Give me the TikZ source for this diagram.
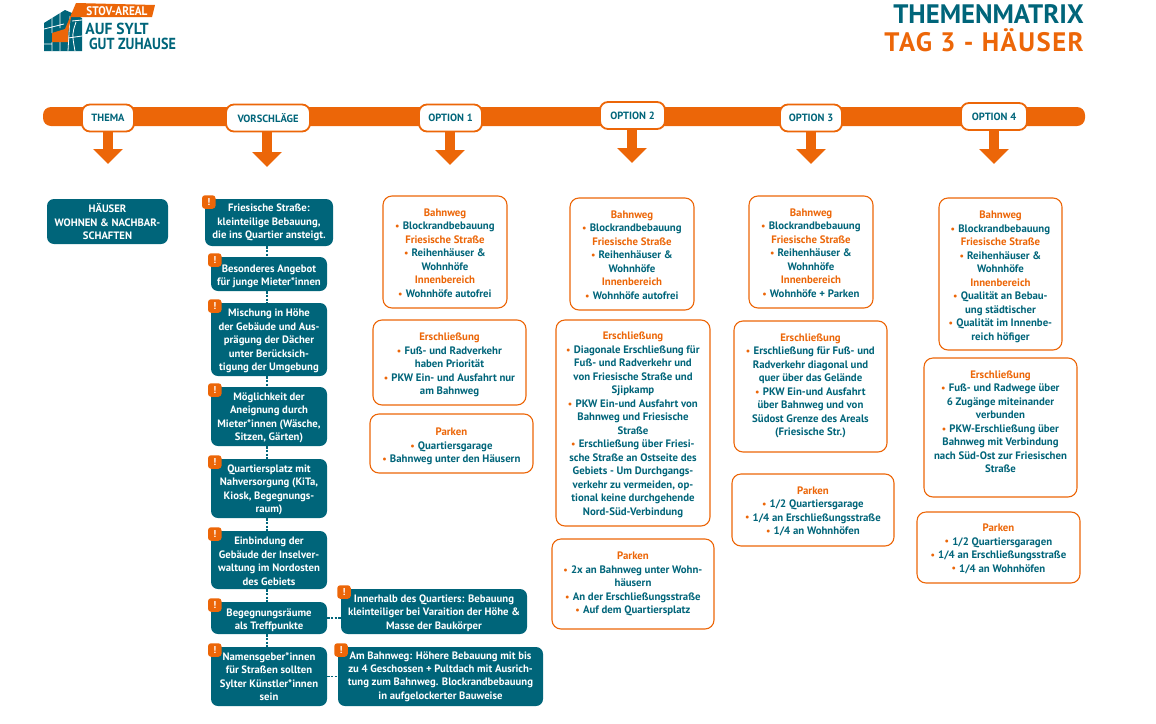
\documentclass[tikz,border=0pt]{standalone}
\usepackage{fontspec}
\setmainfont{PT Sans}
\usetikzlibrary{arrows.meta}
\definecolor{tealbox}{HTML}{00657A}
\definecolor{orangebar}{HTML}{EC6608}
\newcommand{\hd}[1]{{\color{orangebar}#1}}
\newcommand{\bl}{{\color{orangebar}\raisebox{.1em}{\scalebox{.72}{$\bullet$}}}\hspace{.32em}}
\newcommand{\dn}[1]{\rule{0pt}{#1pt}}
\newcommand{\up}[1]{\rule[-#1pt]{0pt}{0pt}}
\begin{document}
\begin{tikzpicture}[x=1pt, y=-1pt,
  every node/.style = {align=center, inner sep=0pt},
  barlabel/.style = {draw=orangebar, fill=white, line width=1.8pt, rounded corners=8pt,
    text=tealbox, font=\fontsize{10.5}{12}\selectfont\bfseries, minimum height=27pt},
  tealnode/.style = {fill=tealbox, rounded corners=7pt, text=white,
    font=\fontsize{10.7}{13.45}\selectfont\bfseries},
  optbox/.style = {draw=orangebar, line width=1.1pt, rounded corners=9pt, fill=white,
    text=tealbox, font=\fontsize{10.8}{13.5}\selectfont\bfseries},
  warn/.style = {fill=orangebar, rounded corners=3pt, minimum size=13.5pt, text=white,
    font=\fontsize{10}{10}\selectfont\bfseries},
  downarrow/.style = {draw=orangebar, line width=10pt, -{Triangle[length=15pt,width=29pt]}},
  link/.style = {draw=tealbox, line width=1.4pt, dash pattern=on 2.5pt off 1.2pt}]
  \useasboundingbox (0,0) rectangle (1156,723);
  \fill[orangebar, rounded corners=8pt] (43,107) rectangle (1085,126);

  \fill[tealbox] (44,23) -- (65,10) -- (72,13) -- (82,18) -- (82,51) -- (44,51) -- cycle;
  \draw[white, line width=.8pt] (44,29) -- (64,24) (72,21) -- (82,20) (44,44) -- (52,44) (68,38) -- (82,36) (52,16) -- (52,33) (52,42) -- (52,51) (60,12) -- (60,28) (60,42) -- (60,51) (70,16) -- (68,51) (76,22) .. controls (72,34) .. (75,51);
  \fill[orangebar] (76,3) -- (155,5) -- (152,17) -- (71,17) -- (68,33) -- (68,42) -- (52,42) -- (52,33) -- (65,29) -- cycle;
  \node[text=white, xscale=.9, font=\fontsize{12.5}{13}\selectfont\bfseries] (logoa) at (117,11.5) {STOV-AREAL};
  \node[text=tealbox, xscale=.97, font=\fontsize{16}{16}\selectfont\bfseries] (logob) at (117,28.5) {AUF SYLT};
  \node[text=tealbox, xscale=.88, font=\fontsize{16}{16}\selectfont\bfseries] (logoc) at (132.5,43.5) {GUT ZUHAUSE};

  \node[anchor=east, text=tealbox, font=\fontsize{26.7}{27}\selectfont\bfseries] (title) at (1084,14) {THEMENMATRIX};
  \node[anchor=east, text=orangebar, font=\fontsize{26.7}{27}\selectfont\bfseries\addfontfeature{LetterSpace=5.7}] (subtitle) at (1084,40.5) {TAG 3 - HÄUSER};

  \node[barlabel, minimum width=52pt] (thema) at (108,118) {THEMA};
  \node[barlabel, minimum width=84pt] (vor) at (268,118) {VORSCHLÄGE};
  \node[barlabel, minimum width=63pt] (opt1) at (450.5,118) {OPTION 1};
  \node[barlabel, minimum width=65pt] (opt2) at (632.5,115.5) {OPTION 2};
  \node[barlabel, minimum width=62pt] (opt3) at (811,118) {OPTION 3};
  \node[barlabel, minimum width=66pt] (opt4) at (994,116.5) {OPTION 4};
  \coordinate (tipa) at (108,164);
  \coordinate (tipb) at (267,167);
  \coordinate (tipc) at (450,165);
  \coordinate (tipd) at (632,163);
  \coordinate (tipe) at (811,164);
  \coordinate (tipf) at (994,164);
  \draw[downarrow] (tipa |- thema.south) -- (tipa);
  \draw[downarrow] (tipb |- vor.south) -- (tipb);
  \draw[downarrow] (tipc |- opt1.south) -- (tipc);
  \draw[downarrow] (tipd |- opt2.south) -- (tipd);
  \draw[downarrow] (tipe |- opt3.south) -- (tipe);
  \draw[downarrow] (tipf |- opt4.south) -- (tipf);

  \node[tealnode, minimum width=121pt, minimum height=45pt] (haus) at (107.5,221.5) {HÄUSER\\WOHNEN \& NACHBAR-\\SCHAFTEN};
  \node[tealnode, minimum width=128pt, minimum height=47pt] (va) at (269,222.5) {Friesische Straße:\\kleinteilige Bebauung,\\die ins Quartier ansteigt.};
  \node[tealnode, minimum width=116pt, minimum height=34pt] (vb) at (269,274) {\dn{12}Besonderes Angebot\\für junge Mieter*innen};
  \node[tealnode, minimum width=116pt, minimum height=73pt] (vc) at (269,339.5) {\dn{11}Mischung in Höhe\\der Gebäude und Aus-\\prägung der Dächer\\unter Berücksich-\\tigung der Umgebung};
  \node[tealnode, minimum width=116pt, minimum height=59pt] (vd) at (269,416.5) {\dn{10}Möglichkeit der\\Aneignung durch\\Mieter*innen (Wäsche,\\Sitzen, Gärten)};
  \node[tealnode, minimum width=116pt, minimum height=59pt] (ve) at (269,488.5) {\dn{10}Quartiersplatz mit\\Nahversorgung (KiTa,\\Kiosk, Begegnungs-\\raum)};
  \node[tealnode, minimum width=116pt, minimum height=58pt] (vf) at (269,560) {\dn{10}Einbindung der\\Gebäude der Inselver-\\waltung im Nordosten\\des Gebiets};
  \node[tealnode, minimum width=116pt, minimum height=32pt] (vg) at (269,618) {\dn{12}Begegnungsräume\\als Treffpunkte};
  \node[tealnode, minimum width=116pt, minimum height=59pt] (vh) at (269,676.5) {Namensgeber*innen\\für Straßen sollten\\Sylter Künstler*innen\\sein};
  \node[tealnode, minimum width=186pt, minimum height=45pt] (ra) at (434,611.5) {\dn{11}Innerhalb des Quartiers: Bebauung\\kleinteiliger bei Varaition der Höhe \&\\Masse der Baukörper};
  \node[tealnode, minimum width=205pt, minimum height=59pt] (rb) at (440.5,676.5) {Am Bahnweg: Höhere Bebauung mit bis\\zu 4 Geschossen + Pultdach mit Ausrich-\\tung zum Bahnweg. Blockrandbebauung\\in aufgelockerter Bauweise};

  \draw[link] ([xshift=-2pt]va.south) -- ([xshift=-2pt]vb.north);
  \draw[link] ([xshift=-2pt]vb.south) -- ([xshift=-2pt]vc.north);
  \draw[link] ([xshift=-2pt]vc.south) -- ([xshift=-2pt]vd.north);
  \draw[link] ([xshift=-2pt]vd.south) -- ([xshift=-2pt]ve.north);
  \draw[link] ([xshift=-2pt]ve.south) -- ([xshift=-2pt]vf.north);
  \draw[link] ([xshift=-2pt]vf.south) -- ([xshift=-2pt]vg.north);
  \draw[link] ([xshift=-2pt]vg.south) -- ([xshift=-2pt]vh.north);
  \draw[link] (vg.east) -- (vg.east -| ra.west);
  \draw[link] (vh.east) -- (rb.west);

  \node[warn] (wa) at (208.75,202) {!};
  \node[warn] (wb) at (214.75,260) {!};
  \node[warn] (wc) at (214.75,306) {!};
  \node[warn] (wd) at (214.75,390) {!};
  \node[warn] (we) at (214.75,462) {!};
  \node[warn] (wf) at (214.75,534) {!};
  \node[warn] (wg) at (214.75,605) {!};
  \node[warn] (wh) at (214.75,650) {!};
  \node[warn] (wi) at (344,592) {!};
  \node[warn] (wj) at (341,650) {!};

  \node[optbox, minimum width=124pt, minimum height=112pt] (aa) at (445,252) {\dn{10}\hd{Bahnweg}\\\bl Blockrandbebauung\\\hd{Friesische Straße}\\\bl Reihenhäuser \&\\Wohnhöfe\\\hd{Innenbereich}\\\bl Wohnhöfe autofrei};
  \node[optbox, minimum width=153pt, minimum height=85pt] (ab) at (449.5,362.5) {\dn{13}\hd{Erschließung}\\\bl Fuß- und Radverkehr\\haben Priorität\\\bl PKW Ein- und Ausfahrt nur\\am Bahnweg};
  \node[optbox, minimum width=163pt, minimum height=59pt] (ac) at (451.5,443.5) {\dn{14}\hd{Parken}\\\bl Quartiersgarage\\\bl Bahnweg unter den Häusern};

  \node[optbox, minimum width=124pt, minimum height=112pt] (ba) at (632,254) {\dn{10}\hd{Bahnweg}\\\bl Blockrandbebauung\\\hd{Friesische Straße}\\\bl Reihenhäuser \&\\Wohnhöfe\\\hd{Innenbereich}\\\bl Wohnhöfe autofrei};
  \node[optbox, minimum width=154pt, minimum height=206pt] (bb) at (633,423) {\dn{11}\hd{Erschließung}\\\bl Diagonale Erschließung für\\Fuß- und Radverkehr und\\von Friesische Straße und\\Sjipkamp\\\bl PKW Ein-und Ausfahrt von\\Bahnweg und Friesische\\Straße\\\bl Erschließung über Friesi-\\sche Straße an Ostseite des\\Gebiets - Um Durchgangs-\\verkehr zu vermeiden, op-\\tional keine durchgehende\\Nord-Süd-Verbindung};
  \node[optbox, minimum width=162pt, minimum height=90pt] (bc) at (633,584) {\hd{Parken}\\\bl 2x an Bahnweg unter Wohn-\\häusern\\\bl An der Erschließungsstraße\\\bl Auf dem Quartiersplatz};

  \node[optbox, minimum width=124pt, minimum height=112pt] (ca) at (811,252) {\dn{10}\hd{Bahnweg}\\\bl Blockrandbebauung\\\hd{Friesische Straße}\\\bl Reihenhäuser \&\\Wohnhöfe\\\hd{Innenbereich}\\\bl Wohnhöfe + Parken};
  \node[optbox, minimum width=153pt, minimum height=131pt] (cb) at (810.5,386.5) {\hd{Erschließung}\\\bl Erschließung für Fuß- und\\Radverkehr diagonal und\\quer über das Gelände\\\bl PKW Ein-und Ausfahrt\\über Bahnweg und von\\Südost Grenze des Areals\\(Friesische Str.)\up{4}};
  \node[optbox, minimum width=162pt, minimum height=72pt] (cc) at (813,510) {\dn{10}\hd{Parken}\\\bl 1/2 Quartiersgarage\\\bl 1/4 an Erschließungsstraße\\\bl 1/4 an Wohnhöfen};

  \node[optbox, minimum width=123pt, minimum height=152pt] (da) at (1000.5,274) {\dn{13}\hd{Bahnweg}\\\bl Blockrandbebauung\\\hd{Friesische Straße}\\\bl Reihenhäuser \&\\Wohnhöfe\\\hd{Innenbereich}\\\bl Qualität an Bebau-\\ung städtischer\\\bl Qualität im Innenbe-\\reich höfiger};
  \node[optbox, minimum width=153pt, minimum height=139pt] (db) at (1000.5,427.5) {\hd{Erschließung}\\\bl Fuß- und Radwege über\\6 Zugänge miteinander\\verbunden\\\bl PKW-Erschließung über\\Bahnweg mit Verbindung\\nach Süd-Ost zur Friesischen\\Straße\up{12}};
  \node[optbox, minimum width=163pt, minimum height=71pt] (dc) at (998.5,547.5) {\dn{10}\hd{Parken}\\\bl 1/2 Quartiersgaragen\\\bl 1/4 an Erschließungsstraße\\\bl 1/4 an Wohnhöfen};
\end{tikzpicture}
\end{document}
